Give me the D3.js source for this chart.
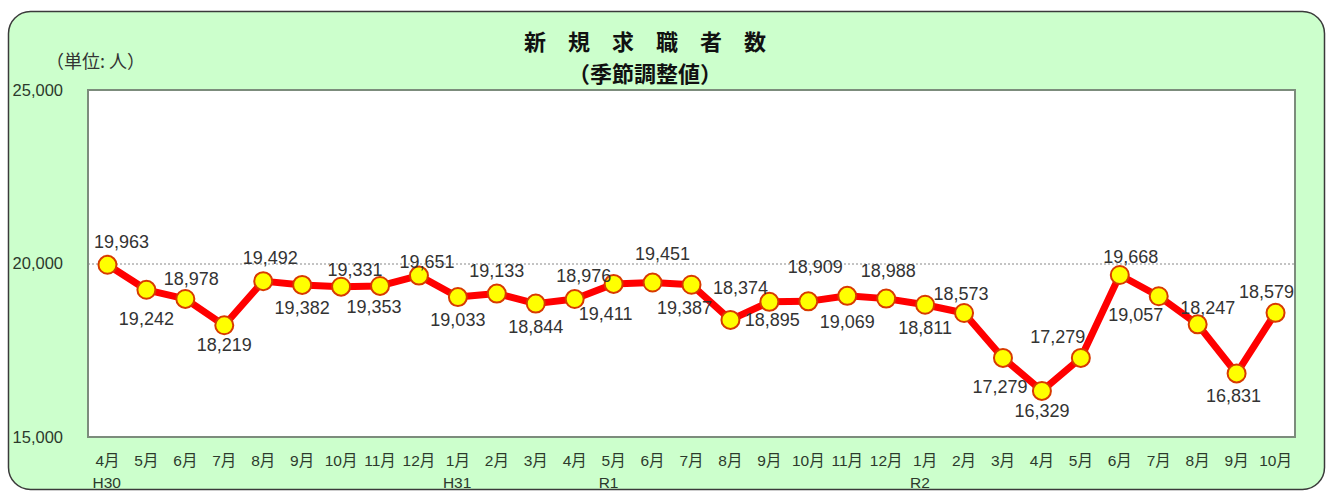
<!DOCTYPE html>
<html>
<head>
<meta charset="utf-8">
<script src="https://cdn.jsdelivr.net/npm/d3@7"></script>
<style>
  body { margin: 0; background: #ffffff; }
  svg text { font-family: "Liberation Sans", "Noto Sans CJK JP", sans-serif; fill: #333; }
</style>
</head>
<body>
<svg id="chart" width="1333" height="494"></svg>
<script>
// ---- data ----
var months = ["4月","5月","6月","7月","8月","9月","10月","11月","12月",
              "1月","2月","3月","4月","5月","6月","7月","8月","9月","10月","11月","12月",
              "1月","2月","3月","4月","5月","6月","7月","8月","9月","10月"];
var eras = ["H30","","","","","","","","",
            "H31","","","","R1","","","","","","","",
            "R2","","","","","","","","",""];
var values = [19963, 19242, 18978, 18219, 19492, 19382, 19331, 19353, 19651,
              19033, 19133, 18844, 18976, 19411, 19451, 19387, 18374, 18895, 18909, 19069, 18988,
              18811, 18573, 17279, 16329, 17279, 19668, 19057, 18247, 16831, 18579];
var yTicks = [15000, 20000, 25000];

// label placement (layout only): side of the point, then a small [dx, dy] nudge
var labelSide = ["u","d","u","d","u","d","u","d","u",
                 "d","u","d","u","d","u","d","u","d","u","d","u",
                 "d","u","d","d","u","u","d","u","d","u"];
var labelNudge = [[14,0],[0,6],[6,3],[0,-3],[7,0],[0,0],[14,6],[-6,-2],[8,9],
                  [0,0],[0,0],[0,0],[9,0],[-8,7],[10,-6],[-7,0],[10,-9],[3,-5],[7,-11],[0,3],[2,-5],
                  [0,0],[-3,4],[-3,6],[0,-3],[-23,2],[11,5],[-23,-4],[10,7],[-3,0],[-9,2]];

var svg = d3.select("#chart");

// outer rounded panel
svg.append("rect")
  .attr("x", 8.5).attr("y", 11.5)
  .attr("width", 1316).attr("height", 478)
  .attr("rx", 22).attr("ry", 22)
  .attr("fill", "#ccffcc")
  .attr("stroke", "#3a3a3a")
  .attr("stroke-width", 1.5);

var pLeft = 88, pRight = 1295, pTop = 90, pBottom = 437;

var x = d3.scaleBand().domain(d3.range(values.length)).range([pLeft, pRight]).padding(0);
var y = d3.scaleLinear().domain([15000, 25000]).range([pBottom, pTop]);

// plot area
svg.append("rect")
  .attr("x", pLeft).attr("y", pTop)
  .attr("width", pRight - pLeft).attr("height", pBottom - pTop)
  .attr("fill", "#ffffff");

// gridline at 20,000
svg.append("g")
  .attr("transform", "translate(" + pLeft + ",0)")
  .call(d3.axisLeft(y).tickValues([20000]).tickSize(-(pRight - pLeft)).tickFormat(""))
  .call(function (g) { g.select(".domain").remove(); })
  .selectAll("line")
  .attr("stroke", "#888")
  .attr("stroke-dasharray", "2,2");

// plot border
svg.append("rect")
  .attr("x", pLeft).attr("y", pTop)
  .attr("width", pRight - pLeft).attr("height", pBottom - pTop)
  .attr("fill", "none")
  .attr("stroke", "#7c8c7c")
  .attr("stroke-width", 2);

// y axis labels
var yAxis = svg.append("g")
  .attr("transform", "translate(" + pLeft + ",0)")
  .call(d3.axisLeft(y).tickValues(yTicks).tickSize(0).tickPadding(25)
        .tickFormat(d3.format(",")));
yAxis.select(".domain").remove();
yAxis.selectAll("text")
  .attr("font-size", "16.5px")
  .style("font-family", "'Liberation Sans', sans-serif")
  .style("fill", "#2c3a2c");

// x axis labels
var xAxis = svg.append("g")
  .attr("transform", "translate(0," + pBottom + ")")
  .call(d3.axisBottom(x).tickSize(0).tickPadding(18)
        .tickFormat(function (i) { return months[i]; }));
xAxis.select(".domain").remove();
xAxis.selectAll("text")
  .attr("font-size", "15.5px")
  .style("fill", "#2c3a2c");

// era labels under the first month of each era
svg.selectAll(".era")
  .data(eras.map(function (e, i) { return { e: e, i: i }; }).filter(function (d) { return d.e !== ""; }))
  .enter().append("text")
  .attr("class", "era")
  .attr("x", function (d) { return x(d.i) + x.bandwidth() / 2 - 15; })
  .attr("y", 488)
  .attr("font-size", "15.5px")
  .style("fill", "#2c3a2c")
  .text(function (d) { return d.e; });

// titles
svg.append("text")
  .attr("x", 645).attr("y", 50)
  .attr("text-anchor", "middle")
  .attr("font-size", "22px")
  .attr("font-weight", "bold")
  .style("font-family", "'Noto Sans CJK JP', sans-serif")
  .style("fill", "#111")
  .text("新　規　求　職　者　数");
svg.append("text")
  .attr("x", 645).attr("y", 82)
  .attr("text-anchor", "middle")
  .attr("font-size", "22px")
  .attr("font-weight", "bold")
  .style("font-family", "'Noto Sans CJK JP', sans-serif")
  .style("fill", "#111")
  .text("（季節調整値）");

// unit note
svg.append("text")
  .attr("x", 46).attr("y", 68)
  .attr("font-size", "18px")
  .style("font-family", "'Noto Sans CJK JP', sans-serif")
  .text("（単位: 人）");

// line
var cx = function (d, i) { return x(i) + x.bandwidth() / 2; };
var line = d3.line()
  .x(function (d, i) { return cx(d, i); })
  .y(function (d) { return y(d); });

svg.append("path")
  .datum(values)
  .attr("d", line)
  .attr("fill", "none")
  .attr("stroke", "#ff0000")
  .attr("stroke-width", 7)
  .attr("stroke-linejoin", "round");

svg.append("g").selectAll("circle")
  .data(values)
  .enter().append("circle")
  .attr("cx", cx)
  .attr("cy", function (d) { return y(d); })
  .attr("r", 9)
  .attr("fill", "#ffff00")
  .attr("stroke", "#d83a00")
  .attr("stroke-width", 2);

// data labels
svg.append("g").selectAll("text")
  .data(values)
  .enter().append("text")
  .attr("x", function (d, i) { return cx(d, i) + labelNudge[i][0]; })
  .attr("y", function (d, i) {
    return (labelSide[i] === "u" ? y(d) - 17 : y(d) + 29) + labelNudge[i][1];
  })
  .attr("text-anchor", "middle")
  .attr("font-size", "18px")
  .text(function (d) { return d3.format(",")(d); });
</script>
</body>
</html>
